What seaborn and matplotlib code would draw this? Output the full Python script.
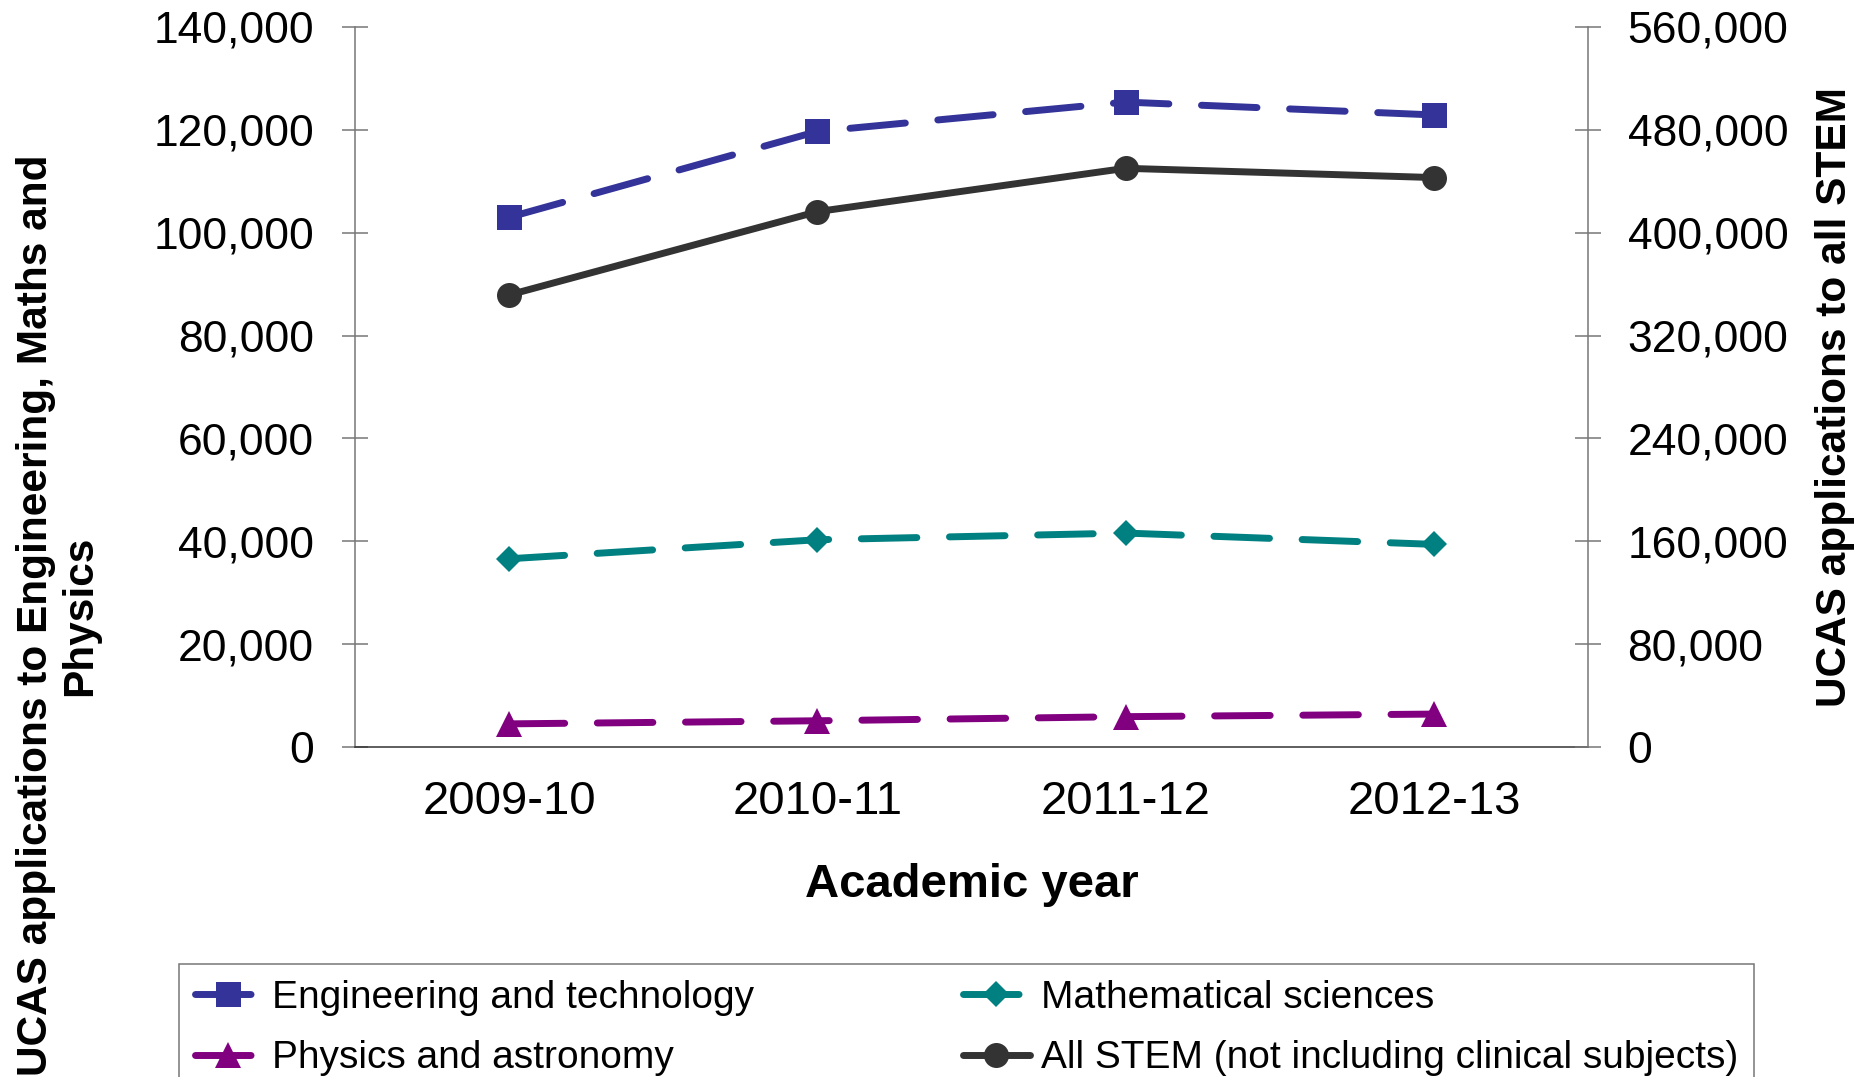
import numpy as np
import pandas as pd
import matplotlib
matplotlib.use("Agg")
from matplotlib import pyplot as plt
from matplotlib.ticker import FuncFormatter, FixedLocator
import seaborn as sns

# data
years = ['2009-10', '2010-11', '2011-12', '2012-13']
engineering = [103000, 119700, 125400, 122900]
maths = [36600, 40300, 41600, 39400]
physics = [4500, 5100, 5900, 6400]
all_stem = [351600, 416400, 450100, 442900]

sns.set_style("white")
plt.rcParams['font.family'] = ['Liberation Sans', 'DejaVu Sans']
plt.rcParams['text.color'] = 'black'
plt.rcParams['axes.labelcolor'] = 'black'

W, H = 1866, 1077
fig = plt.figure(figsize=(W / 100, H / 100), dpi=100)
ax = fig.add_axes([355 / W, 1 - 747 / H, (1588 - 355) / W, (747 - 27) / H])
ax2 = ax.twinx()

dash = (0, (8, 4.7))
common = dict(linewidth=5, markeredgewidth=0, dash_capstyle='round', solid_capstyle='round')

sns.lineplot(x=years, y=engineering, ax=ax, color='#333399', marker='s', markersize=18,
             markeredgecolor='#333399', linestyle=dash, label='Engineering and technology', **common)
sns.lineplot(x=years, y=physics, ax=ax, color='#800080', marker='^', markersize=19,
             markeredgecolor='#800080', linestyle=dash, label='Physics and astronomy', **common)
sns.lineplot(x=years, y=maths, ax=ax, color='#008080', marker='D', markersize=13,
             markeredgecolor='#008080', linestyle=dash, label='Mathematical sciences', **common)
sns.lineplot(x=years, y=all_stem, ax=ax2, color='#333333', marker='o', markersize=18,
             markeredgecolor='#333333', linestyle='-', label='All STEM (not including clinical subjects)',
             **common)

ax.set_xlim(-0.5, len(years) - 0.5)
ax.set_ylim(0, 140000)
ax2.set_ylim(0, 560000)
ax.set_yticks(np.arange(0, 140001, 20000))
ax2.set_yticks(np.arange(0, 560001, 80000))
fmt = FuncFormatter(lambda v, p: f'{int(v):,}')
ax.yaxis.set_major_formatter(fmt)
ax2.yaxis.set_major_formatter(fmt)

# category labels centred, tick marks between categories
ax.set_xticks(range(len(years)))
ax.set_xticklabels(years)
ax.xaxis.set_minor_locator(FixedLocator(np.arange(-0.5, len(years), 1.0)))
ax.tick_params(axis='x', which='major', length=0, pad=24, labelsize=34, labelcolor='black')
ax.tick_params(axis='x', which='minor', direction='inout', length=20, width=1.1, color='#777777')
ax.tick_params(axis='y', direction='inout', length=19, width=1.1, color='#777777', pad=20,
               labelsize=32, left=True, labelcolor='black')
ax2.tick_params(axis='y', direction='inout', length=19, width=1.1, color='#777777', pad=19,
                labelsize=32, right=True, labelcolor='black')

for a in (ax, ax2):
    a.spines['top'].set_visible(False)
    a.set_ylabel('')
    a.grid(False)
ax.spines['right'].set_visible(False)
ax2.spines['left'].set_visible(False)
ax2.spines['bottom'].set_visible(False)
ax.spines['left'].set_color('#777777')
ax2.spines['right'].set_color('#777777')
ax.spines['bottom'].set_color('#333333')
for s in ('left', 'bottom'):
    ax.spines[s].set_linewidth(1.1)
ax2.spines['right'].set_linewidth(1.1)

ax.set_xlabel('Academic year', fontsize=34, fontweight='bold', labelpad=28)

fig.text(0.031, 1 - 155 / H, 'UCAS applications to Engineering, Maths and\nPhysics',
         rotation=90, ha='center', va='top', multialignment='center',
         fontsize=30.5, fontweight='bold', linespacing=1.15)
fig.text(1835 / W, 1 - 397 / H, 'UCAS applications to all STEM', rotation=90,
         ha='center', va='center', fontsize=30.5, fontweight='bold')

h1, l1 = ax.get_legend_handles_labels()
h2, l2 = ax2.get_legend_handles_labels()
ax.get_legend().remove()
ax2.get_legend().remove()
leg = fig.legend(h1 + h2, l1 + l2, ncol=2, loc='upper left', mode='expand',
                 bbox_to_anchor=(179 / W, 1 - 964 / H, (1754 - 179) / W, 0),
                 fontsize=28, frameon=True, fancybox=False, handlelength=1.7,
                 handletextpad=0.3, borderaxespad=0, labelspacing=0.64, borderpad=0.4)
leg.get_frame().set_edgecolor('#555555')
leg.get_frame().set_linewidth(1.1)

fig.savefig('out.png', dpi=100)
